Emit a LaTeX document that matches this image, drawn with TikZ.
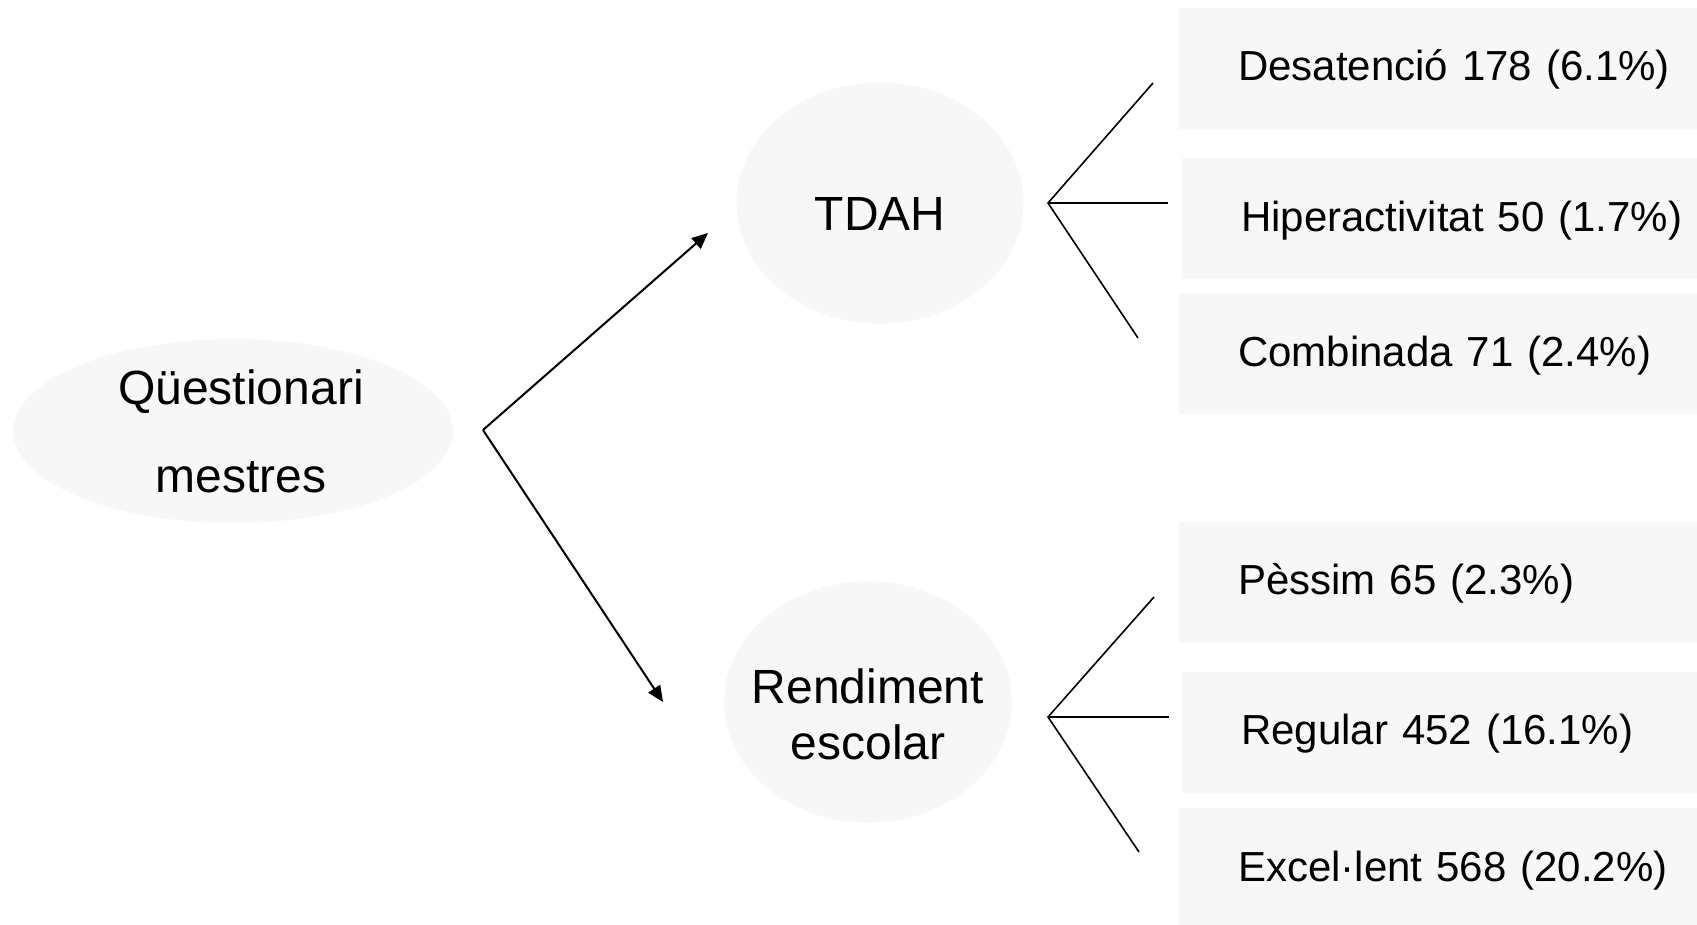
\documentclass[tikz,border=0pt]{standalone}
\usepackage{fontspec}
\setmainfont{Liberation Sans}
\usetikzlibrary{arrows.meta,shapes.geometric}
\definecolor{bubblegray}{RGB}{247,247,247}
\tikzset{every picture/.style={line width=2pt}}

\begin{document}
\begin{tikzpicture}[x=1pt,y=1pt,yscale=-1,xscale=1,
  bubble/.style={ellipse,fill=bubblegray,draw=none,inner xsep=-20pt,inner ysep=0pt,align=center,font=\fontsize{48}{56}\selectfont},
  catbox/.style={rectangle,fill=bubblegray,draw=none,anchor=west,minimum height=121pt,text width=500pt,inner xsep=59pt,inner ysep=0pt,align=left,text height=25pt,text depth=0pt,font=\fontsize{42}{50}\selectfont},
  branch/.style={line width=1.6pt},
  stem/.style={line width=2pt},
  pointer/.style={line width=2pt,-{Triangle[length=16pt,width=14pt]}}]
\useasboundingbox (0,0) rectangle (1697,924);

%Shape: Ellipse
\node [bubble,minimum width=440pt,minimum height=184pt,font=\fontsize{48}{88}\selectfont] (quest) at (233,431) {\hspace*{16pt}Qüestionari\\\hspace*{16pt}mestres};
\node [bubble,minimum width=287pt,minimum height=241pt,text height=54pt,text depth=0pt] (tdah) at (880,203) {TDAH};
\node [bubble,minimum width=288pt,minimum height=241pt,text height=114pt,text depth=0pt] (rend) at (868,702) {Rendiment\\escolar};

%Shape: Rectangle
\node [catbox] (desat) at (1178,68) {Desatenció 178 (6.1\%)};
\node [catbox] (hiper) at (1181,218.5) {Hiperactivitat 50 (1.7\%)};
\node [catbox] (comb) at (1178,353.5) {Combinada 71 (2.4\%)};
\node [catbox] (pess) at (1178,582) {Pèssim 65 (2.3\%)};
\node [catbox] (regul) at (1181,732) {Regular 452 (16.1\%)};
\node [catbox] (excel) at (1178,868.5) {Excel·lent 568 (20.2\%)};

%Straight Lines
\coordinate (split) at (483,430);
\coordinate (tipT) at (708,233);
\coordinate (tipR) at (663,702);
\draw [pointer] (split) -- (tipT);
\draw [pointer] (split) -- (tipR);

%Straight Lines
\coordinate (fanT) at (1048,203);
\coordinate (fanTa) at (1153,83);
\coordinate (fanTb) at (1168,203);
\coordinate (fanTc) at (1138,338);
\draw [branch] (fanTa) -- (fanT) -- (fanTc);
\draw [stem] (fanT) -- (fanTb);

\coordinate (fanR) at (1048,717);
\coordinate (fanRa) at (1154,597);
\coordinate (fanRb) at (1169,717);
\coordinate (fanRc) at (1139,852);
\draw [branch] (fanRa) -- (fanR) -- (fanRc);
\draw [stem] (fanR) -- (fanRb);

\end{tikzpicture}
\end{document}
